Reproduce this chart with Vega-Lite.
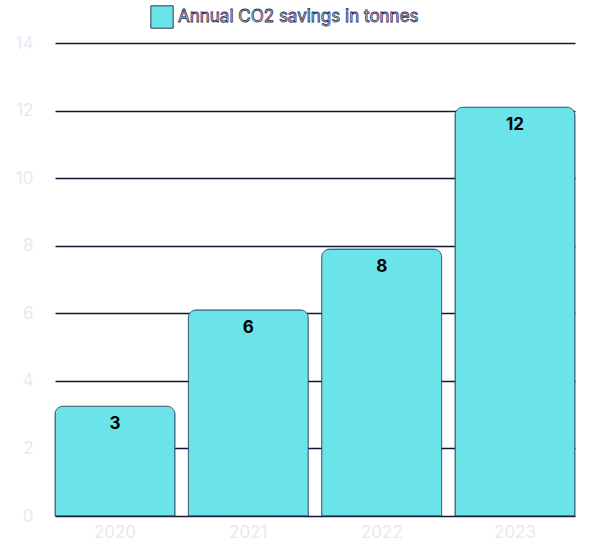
{
"$schema":"https://vega.github.io/schema/vega-lite/v6.json",
"width":520,"height":473,
"padding":{"left":55,"top":43,"right":37,"bottom":36},
"autosize":{"type":"none"},
"data":{"values":[
{"year":"2020","value":3.25,"label":"3","series":"Annual CO2 savings in tonnes"},
{"year":"2021","value":6.1,"label":"6","series":"Annual CO2 savings in tonnes"},
{"year":"2022","value":7.9,"label":"8","series":"Annual CO2 savings in tonnes"},
{"year":"2023","value":12.1,"label":"12","series":"Annual CO2 savings in tonnes"}]},
"config":{"view":{"stroke":null},"font":"Inter"},
"encoding":{
"x":{"field":"year","type":"nominal","title":null,"scale":{"paddingInner":0.1,"paddingOuter":0},
"axis":{"labelAngle":0,"domain":false,"ticks":false,"labelFontSize":17,"labelColor":"#e8e8f4","labelPadding":8,"encode":{"labels":{"update":{"stroke":{"value":"#2a2d55"},"strokeWidth":{"value":0.8}}}}}},
"y":{"field":"value","type":"quantitative","title":null,"scale":{"domain":[0,14]},
"axis":{"tickCount":7,"domain":false,"ticks":false,"gridColor":"#14163a","gridWidth":1.5,"labelFontSize":17,"labelColor":"#e8e8f4","labelPadding":22,"encode":{"labels":{"update":{"stroke":{"value":"#2a2d55"},"strokeWidth":{"value":0.8}}}}}}
},
"layer":[
{"mark":{"type":"bar","cornerRadiusTopLeft":8,"cornerRadiusTopRight":8,"stroke":"#2a3a5a","strokeWidth":0.8},
"encoding":{"color":{"field":"series","type":"nominal","scale":{"range":["#6ae4e8"]},"title":null,
"legend":{"orient":"none","legendX":95,"legendY":-38,"direction":"horizontal","symbolType":"square","symbolSize":500,"symbolStrokeColor":"#2a3a5a","symbolStrokeWidth":1,"labelFontSize":17,"labelLimit":0,"labelColor":"#e8e8f4","encode":{"labels":{"update":{"stroke":{"value":"#2a2d55"},"strokeWidth":{"value":0.8}}}}}}}},
{"mark":{"type":"text","baseline":"top","dy":10,"fontSize":17,"fontWeight":"bold","color":"black"},
"encoding":{"text":{"field":"label"}}}
]
}
